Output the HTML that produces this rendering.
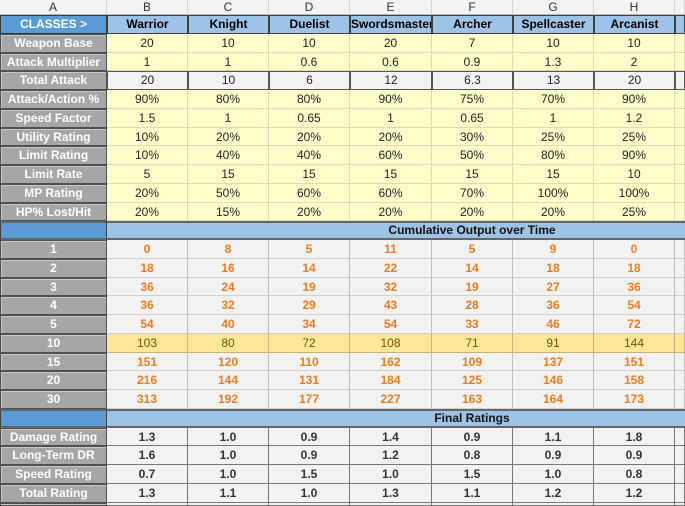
<!DOCTYPE html>
<html><head><meta charset="utf-8"><style>
html,body{margin:0;width:685px;height:506px;overflow:hidden;background:#fff;font-family:"Liberation Sans",Arial,sans-serif;}
table{display:grid;grid-template-columns:107px 81px 81px 81px 82px 81px 81px 81px 10px;grid-template-rows:15px repeat(26,18.75px) 3.5px;width:685px;height:506px;font-size:12px;}
tbody,tr{display:contents;}
td{display:block;padding:0;text-align:center;box-sizing:border-box;white-space:nowrap;overflow:hidden;line-height:18px;}
tr.hd td{line-height:14px;background:#f3f3f3;color:#333;border-right:1px solid #d4d4d4;border-bottom:1px solid #b8b8b8;font-size:12px;}
.l{background:#a6a6a6;color:#fff;font-weight:bold;border:1px solid #505050;box-shadow:inset 1px 1px 0 #c8c8c8;line-height:17px;}
.cl{background:#5b9bd5;color:#fff;font-weight:bold;border:1px solid #3a3a3a;line-height:17px;}
.c{background:#9dc3e6;color:#000;font-weight:bold;border:1px solid #404040;line-height:17px;}
.y{background:#ffffcc;color:#222;border-right:1px solid #dcdcb0;border-bottom:1px solid #dcdcb0;}
.t{background:#f2f2f2;color:#222;border:1px solid #555;line-height:17px;}
.s{grid-column:span 8;background:#9dc3e6;border-top:2px solid #666;border-bottom:2px solid #666;font-weight:bold;color:#111;padding-left:152px;line-height:15px;}
.sa{background:#5b9bd5;border:1px solid #404040;border-top:2px solid #666;border-bottom:2px solid #666;}
.o{background:#f2f2f2;color:#f07c1e;font-weight:bold;border-right:1px solid #bcbcbc;border-bottom:1px solid #d0d0d0;}
.m{background:#ffe699;color:#7a5200;border-right:1px solid #c8b070;border-bottom:1px solid #c8b070;}
.f{background:#f2f2f2;color:#333;font-weight:bold;border-right:1px solid #777;border-bottom:1px solid #777;}
</style></head><body>
<table>
<tr class="hd"><td>A</td><td>B</td><td>C</td><td>D</td><td>E</td><td>F</td><td>G</td><td>H</td><td></td></tr>
<tr><td class="cl">CLASSES &gt;</td><td class="c">Warrior</td><td class="c">Knight</td><td class="c">Duelist</td><td class="c">Swordsmaster</td><td class="c">Archer</td><td class="c">Spellcaster</td><td class="c">Arcanist</td><td class="c"></td></tr>
<tr><td class="l">Weapon Base</td><td class="y">20</td><td class="y">10</td><td class="y">10</td><td class="y">20</td><td class="y">7</td><td class="y">10</td><td class="y">10</td><td class="y"></td></tr>
<tr><td class="l">Attack Multiplier</td><td class="y">1</td><td class="y">1</td><td class="y">0.6</td><td class="y">0.6</td><td class="y">0.9</td><td class="y">1.3</td><td class="y">2</td><td class="y"></td></tr>
<tr><td class="l">Total Attack</td><td class="t">20</td><td class="t">10</td><td class="t">6</td><td class="t">12</td><td class="t">6.3</td><td class="t">13</td><td class="t">20</td><td class="t"></td></tr>
<tr><td class="l">Attack/Action %</td><td class="y">90%</td><td class="y">80%</td><td class="y">80%</td><td class="y">90%</td><td class="y">75%</td><td class="y">70%</td><td class="y">90%</td><td class="y"></td></tr>
<tr><td class="l">Speed Factor</td><td class="y">1.5</td><td class="y">1</td><td class="y">0.65</td><td class="y">1</td><td class="y">0.65</td><td class="y">1</td><td class="y">1.2</td><td class="y"></td></tr>
<tr><td class="l">Utility Rating</td><td class="y">10%</td><td class="y">20%</td><td class="y">20%</td><td class="y">20%</td><td class="y">30%</td><td class="y">25%</td><td class="y">25%</td><td class="y"></td></tr>
<tr><td class="l">Limit Rating</td><td class="y">10%</td><td class="y">40%</td><td class="y">40%</td><td class="y">60%</td><td class="y">50%</td><td class="y">80%</td><td class="y">90%</td><td class="y"></td></tr>
<tr><td class="l">Limit Rate</td><td class="y">5</td><td class="y">15</td><td class="y">15</td><td class="y">15</td><td class="y">15</td><td class="y">15</td><td class="y">10</td><td class="y"></td></tr>
<tr><td class="l">MP Rating</td><td class="y">20%</td><td class="y">50%</td><td class="y">60%</td><td class="y">60%</td><td class="y">70%</td><td class="y">100%</td><td class="y">100%</td><td class="y"></td></tr>
<tr><td class="l">HP% Lost/Hit</td><td class="y">20%</td><td class="y">15%</td><td class="y">20%</td><td class="y">20%</td><td class="y">20%</td><td class="y">20%</td><td class="y">25%</td><td class="y"></td></tr>
<tr><td class="sa"></td><td class="s">Cumulative Output over Time</td></tr>
<tr><td class="l">1</td><td class="o">0</td><td class="o">8</td><td class="o">5</td><td class="o">11</td><td class="o">5</td><td class="o">9</td><td class="o">0</td><td class="o"></td></tr>
<tr><td class="l">2</td><td class="o">18</td><td class="o">16</td><td class="o">14</td><td class="o">22</td><td class="o">14</td><td class="o">18</td><td class="o">18</td><td class="o"></td></tr>
<tr><td class="l">3</td><td class="o">36</td><td class="o">24</td><td class="o">19</td><td class="o">32</td><td class="o">19</td><td class="o">27</td><td class="o">36</td><td class="o"></td></tr>
<tr><td class="l">4</td><td class="o">36</td><td class="o">32</td><td class="o">29</td><td class="o">43</td><td class="o">28</td><td class="o">36</td><td class="o">54</td><td class="o"></td></tr>
<tr><td class="l">5</td><td class="o">54</td><td class="o">40</td><td class="o">34</td><td class="o">54</td><td class="o">33</td><td class="o">46</td><td class="o">72</td><td class="o"></td></tr>
<tr><td class="l">10</td><td class="m">103</td><td class="m">80</td><td class="m">72</td><td class="m">108</td><td class="m">71</td><td class="m">91</td><td class="m">144</td><td class="m"></td></tr>
<tr><td class="l">15</td><td class="o">151</td><td class="o">120</td><td class="o">110</td><td class="o">162</td><td class="o">109</td><td class="o">137</td><td class="o">151</td><td class="o"></td></tr>
<tr><td class="l">20</td><td class="o">216</td><td class="o">144</td><td class="o">131</td><td class="o">184</td><td class="o">125</td><td class="o">146</td><td class="o">158</td><td class="o"></td></tr>
<tr><td class="l">30</td><td class="o">313</td><td class="o">192</td><td class="o">177</td><td class="o">227</td><td class="o">163</td><td class="o">164</td><td class="o">173</td><td class="o"></td></tr>
<tr><td class="sa"></td><td class="s">Final Ratings</td></tr>
<tr><td class="l">Damage Rating</td><td class="f">1.3</td><td class="f">1.0</td><td class="f">0.9</td><td class="f">1.4</td><td class="f">0.9</td><td class="f">1.1</td><td class="f">1.8</td><td class="f"></td></tr>
<tr><td class="l">Long-Term DR</td><td class="f">1.6</td><td class="f">1.0</td><td class="f">0.9</td><td class="f">1.2</td><td class="f">0.8</td><td class="f">0.9</td><td class="f">0.9</td><td class="f"></td></tr>
<tr><td class="l">Speed Rating</td><td class="f">0.7</td><td class="f">1.0</td><td class="f">1.5</td><td class="f">1.0</td><td class="f">1.5</td><td class="f">1.0</td><td class="f">0.8</td><td class="f"></td></tr>
<tr><td class="l">Total Rating</td><td class="f">1.3</td><td class="f">1.1</td><td class="f">1.0</td><td class="f">1.3</td><td class="f">1.1</td><td class="f">1.2</td><td class="f">1.2</td><td class="f"></td></tr>
<tr><td class="l"></td><td class="f"></td><td class="f"></td><td class="f"></td><td class="f"></td><td class="f"></td><td class="f"></td><td class="f"></td><td class="f"></td></tr>
</table>
</body></html>
